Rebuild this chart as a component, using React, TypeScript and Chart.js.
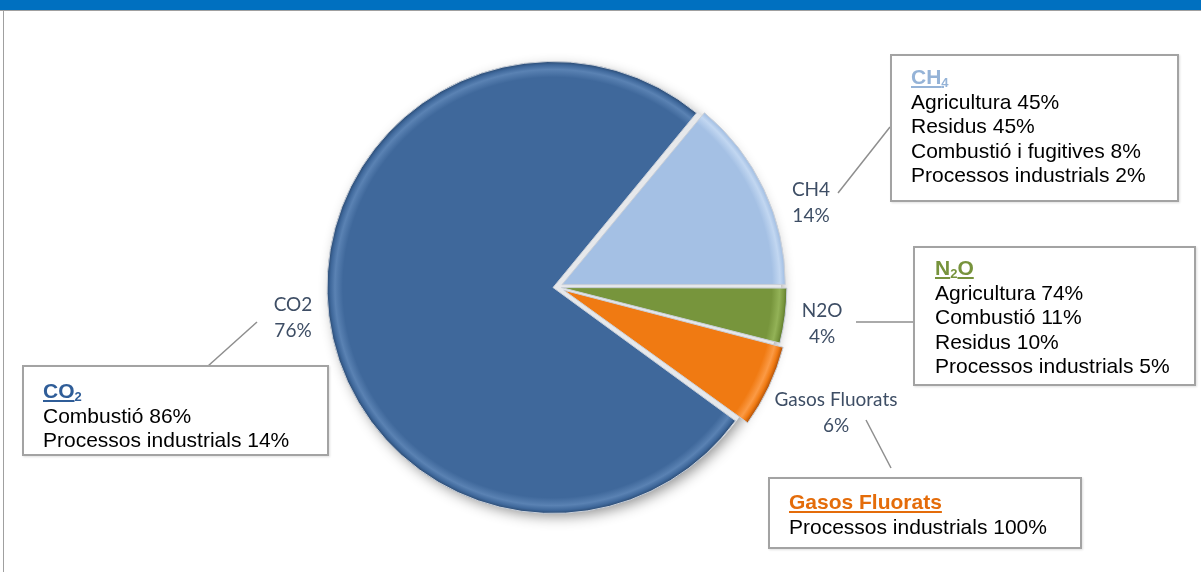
import React, { useEffect, useRef } from "react";
import { Chart, registerables } from "chart.js";

Chart.register(...registerables);

// ---- data ----
const categories = ["CO2", "CH4", "N2O", "Gasos Fluorats"];
const shares = [76, 14, 4, 6];
const sliceColors = ["#3F689B", "#A4C0E4", "#77953C", "#F07A12"];
const sliceLight = ["#5A82B3", "#C2D7F1", "#93B257", "#FB9A45"];
const sliceDark = ["#2B4B73", "#7D99C0", "#546E28", "#B7560A"];

const co2Sources = ["Combustió 86%", "Processos industrials 14%"];
const ch4Sources = ["Agricultura 45%", "Residus 45%", "Combustió i fugitives 8%", "Processos industrials 2%"];
const n2oSources = ["Agricultura 74%", "Combustió 11%", "Residus 10%", "Processos industrials 5%"];
const fgasSources = ["Processos industrials 100%"];

// ---- layout / style constants ----
const RADIUS = 222;
const LABEL_FONT = "19px Lato, 'Open Sans', sans-serif";
const LABEL_COLOR = "#3E4E65";
// label centre offsets relative to the pie centre (per slice)
const LABEL_OFFSETS = [
  [-264, 31],
  [254, -84],
  [265, 37],
  [279, 126],
];
const LEADERS = [
  [257, 322, 208, 366],
  [838, 193, 890, 127],
  [856, 322, 913, 322],
  [866, 420, 891, 468],
];

const bevelColor = (ctx: any) => {
  const i = ctx.dataIndex ?? 0;
  const chart = ctx.chart;
  const a = chart.chartArea;
  if (!a) return sliceColors[i];
  const cx = (a.left + a.right) / 2;
  const cy = (a.top + a.bottom) / 2;
  const g = chart.ctx.createRadialGradient(cx, cy, 0, cx, cy, RADIUS + 4);
  g.addColorStop(0, sliceColors[i]);
  g.addColorStop(0.93, sliceColors[i]);
  g.addColorStop(0.965, sliceLight[i]);
  g.addColorStop(0.985, sliceColors[i]);
  g.addColorStop(1, sliceDark[i]);
  return g;
};

const pieExtras = {
  id: "pieExtras",
  beforeDatasetsDraw(chart: any) {
    const arc = chart.getDatasetMeta(0).data[0];
    if (!arc) return;
    const ctx = chart.ctx;
    ctx.save();
    ctx.shadowColor = "rgba(0,0,0,0.45)";
    ctx.shadowBlur = 14;
    ctx.shadowOffsetY = 5;
    ctx.fillStyle = "#E6E8EB";
    ctx.beginPath();
    ctx.arc(arc.x, arc.y, RADIUS + 2, 0, Math.PI * 2);
    ctx.fill();
    ctx.restore();
  },
  afterDatasetsDraw(chart: any) {
    const ctx = chart.ctx;
    const meta = chart.getDatasetMeta(0);
    ctx.save();
    // leader lines
    ctx.strokeStyle = "#8E8E8E";
    ctx.lineWidth = 1.5;
    LEADERS.forEach(([x1, y1, x2, y2]) => {
      ctx.beginPath();
      ctx.moveTo(x1, y1);
      ctx.lineTo(x2, y2);
      ctx.stroke();
    });
    // data labels
    ctx.font = LABEL_FONT;
    ctx.fillStyle = LABEL_COLOR;
    ctx.textAlign = "center";
    ctx.textBaseline = "middle";
    meta.data.forEach((el: any, i: number) => {
      const [dx, dy] = LABEL_OFFSETS[i];
      const lx = el.x + dx;
      const ly = el.y + dy;
      ctx.fillText(categories[i], lx, ly - 13);
      ctx.fillText(`${shares[i]}%`, lx, ly + 13);
    });
    ctx.restore();
  },
};

const boxFont = "'Liberation Sans', Arial, sans-serif";

function Callout(props: {
  left: number;
  top: number;
  width: number;
  height: number;
  padTop: number;
  padLeft: number;
  color: string;
  title: React.ReactNode;
  lines: string[];
}) {
  return (
    <div
      style={{
        position: "absolute",
        left: props.left,
        top: props.top,
        width: props.width,
        height: props.height,
        boxSizing: "border-box",
        border: "2px solid #A3A3A3",
        background: "#ffffff",
        boxShadow: "1px 1px 2px rgba(0,0,0,0.12)",
        paddingTop: props.padTop,
        paddingLeft: props.padLeft,
        fontFamily: boxFont,
        fontSize: 21,
        lineHeight: "24.5px",
        color: "#000000",
        whiteSpace: "nowrap",
      }}
    >
      <div>
        <span
          style={{
            color: props.color,
            fontWeight: "bold",
            textDecoration: "underline",
            textDecorationThickness: "2px",
            textUnderlineOffset: "2px",
          }}
        >
          {props.title}
        </span>
      </div>
      {props.lines.map((l, i) => (
        <div key={i}>{l}</div>
      ))}
    </div>
  );
}

const subStyle: React.CSSProperties = { fontSize: 13, verticalAlign: "-3px", lineHeight: 0 };

export default function App() {
  const canvasRef = useRef<HTMLCanvasElement | null>(null);

  useEffect(() => {
    if (!canvasRef.current) return;
    const chart = new Chart(canvasRef.current, {
      type: "pie",
      data: {
        labels: categories,
        datasets: [
          {
            data: shares,
            backgroundColor: bevelColor as any,
            borderColor: "#C9CFD8",
            borderWidth: 1,
            offset: [16, 22, 18, 30],
          },
        ],
      },
      options: {
        animation: false,
        responsive: true,
        maintainAspectRatio: false,
        radius: RADIUS,
        rotation: 126,
        layout: { padding: { left: 0, right: 87, top: 2, bottom: 0 } },
        plugins: {
          legend: { display: false },
          tooltip: { enabled: false },
        },
        events: [],
      } as any,
      plugins: [pieExtras],
    });
    return () => chart.destroy();
  }, []);

  return (
    <div
      style={{
        position: "fixed",
        left: 0,
        top: 0,
        width: 1201,
        height: 572,
        background: "#ffffff",
        overflow: "hidden",
      }}
    >
      <div style={{ position: "absolute", left: 0, top: 0, width: 1201, height: 10, background: "#0070C0" }} />
      <div style={{ position: "absolute", left: 0, top: 10, width: 1201, height: 1, background: "#A0A0A0" }} />
      <div style={{ position: "absolute", left: 3, top: 10, width: 1, height: 562, background: "#A0A0A0" }} />
      <div style={{ position: "absolute", left: 0, top: 0, width: 1201, height: 572 }}>
        <canvas ref={canvasRef} />
      </div>
      <Callout
        left={890}
        top={54}
        width={289}
        height={148}
        padTop={9}
        padLeft={19}
        color="#95B3D7"
        title={<>CH<sub style={subStyle}>4</sub></>}
        lines={ch4Sources}
      />
      <Callout
        left={913}
        top={246}
        width={283}
        height={140}
        padTop={8}
        padLeft={20}
        color="#77933C"
        title={<>N<sub style={subStyle}>2</sub>O</>}
        lines={n2oSources}
      />
      <Callout
        left={22}
        top={365}
        width={307}
        height={91}
        padTop={12}
        padLeft={19}
        color="#2F5D98"
        title={<>CO<sub style={subStyle}>2</sub></>}
        lines={co2Sources}
      />
      <Callout
        left={768}
        top={477}
        width={314}
        height={72}
        padTop={11}
        padLeft={19}
        color="#E46C0A"
        title="Gasos Fluorats"
        lines={fgasSources}
      />
    </div>
  );
}
